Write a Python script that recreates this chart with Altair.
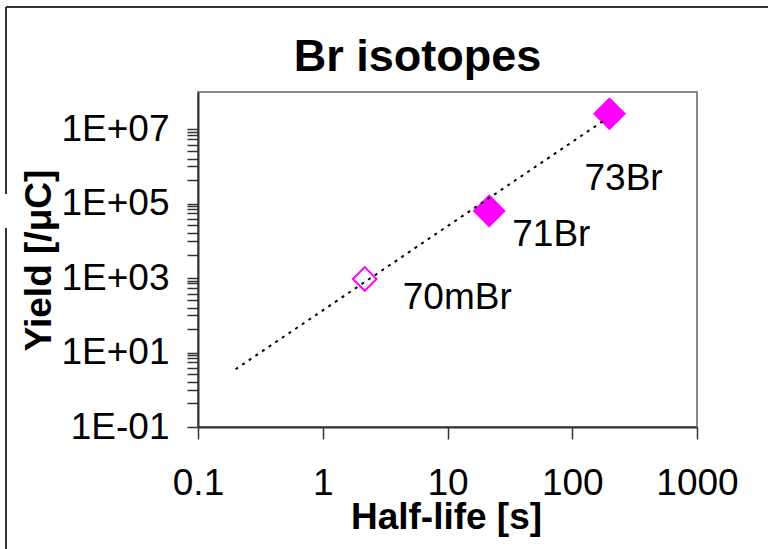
import altair as alt
import pandas as pd

# ---- data ----
isotopes = ["70mBr", "71Br", "73Br"]
half_life = [2.17, 21.6, 199.0]          # s
yields = [950.0, 64000.0, 2.6e7]         # /uC
filled = [False, True, True]

trend_x = [0.2, 186.0]                   # power-law trendline end points
trend_y = [3.56, 1.86e7]

x_ticks = [0.1, 1, 10, 100, 1000]
y_label_vals = [0.1, 10, 1000, 100000, 10000000]
y_label_text = ["1E-01", "1E+01", "1E+03", "1E+05", "1E+07"]
y_minor_frac = [0.85, 0.72, 0.55, 0.38, 0.26, 0.16, 0.1, 0.043]

FONT = "Liberation Sans"
MAG = "#FF00FF"

df = pd.DataFrame({"iso": isotopes, "t": half_life, "y": yields, "filled": filled})
tdf = pd.DataFrame({"t": trend_x, "y": trend_y})

# axis tick values: labelled majors plus minors below each upper major
y_vals = list(y_label_vals)
for v in y_label_vals[1:]:
    y_vals += [v * f for f in y_minor_frac]
y_vals = sorted(set(y_vals))

expr = "''"
for v, s in zip(reversed(y_label_vals), reversed(y_label_text)):
    expr = f"(abs(datum.value - {v}) < {v}*1e-6) ? '{s}' : " + expr

xs = alt.Scale(type="log", domain=[0.1, 1000], nice=False)
ys = alt.Scale(type="log", domain=[0.1, 1e8], nice=False)

x_axis = alt.Axis(values=x_ticks, format="~g", grid=False, tickSize=12, tickColor="#333",
                  tickWidth=1.5, domainColor="#333", domainWidth=2, labelFont=FONT,
                  labelFontSize=37, labelColor="black", labelPadding=26,
                  title="Half-life [s]", titleFont=FONT, titleFontSize=37, titleFontWeight="bold",
                  titleColor="black", titleBaseline="alphabetic", titleY=101, titleX=248,
                  labelFlush=False, labelOverlap=False)
y_axis = alt.Axis(values=y_vals, labelExpr=expr, grid=False, tickSize=11, tickColor="#333",
                  tickWidth=1.5, domainColor="#333", domainWidth=2, labelFont=FONT,
                  labelFontSize=37, labelColor="black", labelPadding=18, labelOverlap=False,
                  labelFlush=False, labelBaseline="middle",
                  title="Yield [/μC]", titleFont=FONT, titleFontSize=37, titleFontWeight="bold",
                  titleColor="black", titleAngle=270, titleAlign="center",
                  titleBaseline="alphabetic", titleX=-148, titleY=168)

base = alt.Chart(df)

hollow = base.transform_filter("!datum.filled").mark_point(
    shape="diamond", filled=False, size=560, strokeWidth=2, color=MAG, opacity=1
).encode(x=alt.X("t:Q", scale=xs, axis=x_axis), y=alt.Y("y:Q", scale=ys, axis=y_axis))

solid = base.transform_filter("datum.filled").mark_point(
    shape="diamond", filled=True, size=1090, color=MAG, opacity=1
).encode(x=alt.X("t:Q", scale=xs), y=alt.Y("y:Q", scale=ys))

trend = alt.Chart(tdf).mark_line(color="black", strokeWidth=2, strokeDash=[3, 5]).encode(
    x=alt.X("t:Q", scale=xs), y=alt.Y("y:Q", scale=ys))

label_off = {"70mBr": (38, 30), "71Br": (23, 35), "73Br": (-25, 76)}
labels = []
for iso in isotopes:
    dx, dy = label_off[iso]
    labels.append(
        base.transform_filter(alt.datum.iso == iso).mark_text(
            font=FONT, fontSize=37, align="left", baseline="alphabetic", dx=dx, dy=dy, color="black"
        ).encode(x=alt.X("t:Q", scale=xs), y=alt.Y("y:Q", scale=ys), text="iso:N")
    )

# outer figure frame (with the small break seen at the left edge)
frame_left_a = alt.Chart(tdf).mark_rule(color="#333", strokeWidth=2).encode(
    x=alt.value(-192), y=alt.value(-85), y2=alt.value(102))
frame_left_b = alt.Chart(tdf).mark_rule(color="#333", strokeWidth=2).encode(
    x=alt.value(-192), y=alt.value(136), y2=alt.value(470))
frame_top = alt.Chart(tdf).mark_rule(color="#333", strokeWidth=2).encode(
    x=alt.value(-192), x2=alt.value(600), y=alt.value(-85))

chart = alt.layer(frame_left_a, frame_left_b, frame_top, hollow, solid, trend, *labels).properties(
    width=499, height=335,
    title=alt.TitleParams("Br isotopes", font=FONT, fontSize=45, fontWeight="bold",
                          color="black", anchor="middle", frame="group", dx=-30, dy=48,
                          baseline="alphabetic", offset=-62),
    autosize=alt.AutoSizeParams(type="none"),
    padding={"left": 198, "top": 92, "right": 71, "bottom": 122},
    background="white",
).configure_view(stroke="#888", strokeWidth=2)

chart.save("out.html", embed_options={"renderer": "svg", "actions": False})
